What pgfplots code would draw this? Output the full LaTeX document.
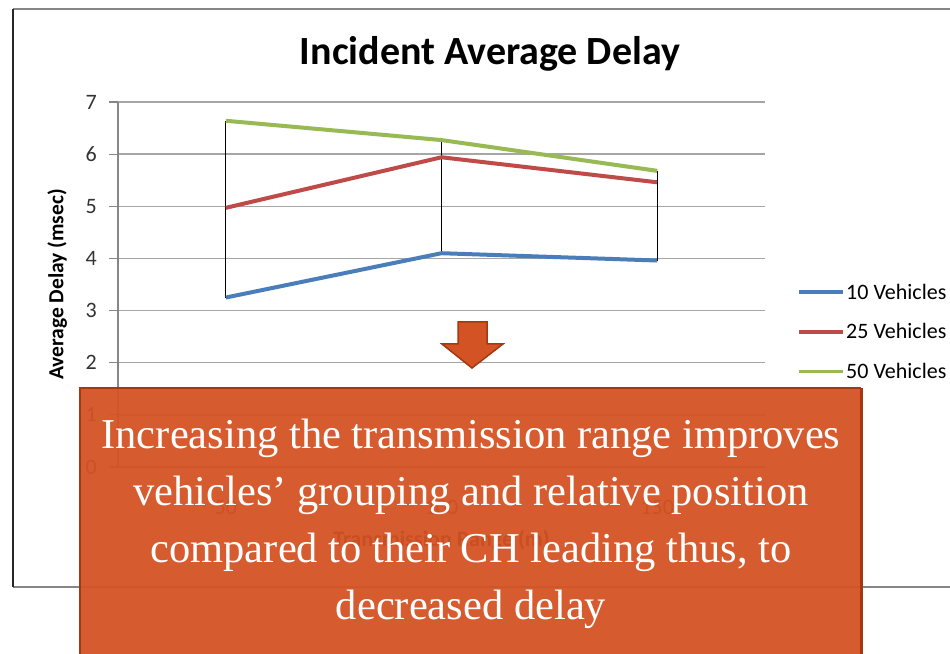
\documentclass[border=0pt]{standalone}
\usepackage{pgfplots}
\pgfplotsset{compat=1.18}
\usepackage{fontspec}
\setmainfont{Carlito}
\newfontfamily\boxfont{Liberation Serif}
\definecolor{s1}{HTML}{4A7EBB}
\definecolor{s2}{HTML}{BE4B48}
\definecolor{s3}{HTML}{98B954}
\definecolor{boxor}{HTML}{D45324}
\definecolor{boxbd}{HTML}{A3390F}
\definecolor{gridc}{HTML}{A6A6A6}
\definecolor{axc}{HTML}{868686}
\begin{document}
\begin{tikzpicture}[x=1pt,y=1pt]
\useasboundingbox (0,0) rectangle (950,653);
\clip (0,0) rectangle (950,653);
\fill[white] (0,0) rectangle (950,653);
\draw[line width=1.2pt, axc] (13,66) -- (960,66);
\draw[line width=1.2pt, axc] (13,644) -- (960,644);
\draw[line width=1.8pt, black!85] (13,66) -- (13,644);
\begin{axis}[
  at={(118pt,186pt)}, anchor=south west,
  scale only axis, width=647pt, height=365pt,
  xmin=-0.5, xmax=2.5, ymin=0, ymax=7,
  xtick={0,1,2}, xticklabels={50,100,150},
  ytick={0,1,...,7},
  axis lines*=left,
  axis line style={axc, line width=1.2pt},
  ymajorgrids, grid style={gridc, line width=1.3pt},
  tick align=outside, major tick length=9pt,
  ytick style={axc, line width=1.2pt},
  xtick style={draw=none},
  tick label style={font=\fontsize{22}{22}\selectfont, text=black!80},
  /pgf/number format/assume math mode=true,
  yticklabel style={inner sep=0pt, xshift=-12pt},
  xticklabel style={inner sep=0pt, yshift=-24pt},
  title={Incident Average Delay},
  title style={at={(0.575,1)}, anchor=base, yshift=31pt, font=\bfseries\fontsize{40}{42}\selectfont},
  ylabel={Average Delay (msec)},
  ylabel style={at={(axis description cs:-0.094,0.5)}, rotate=0, anchor=center, font=\bfseries\fontsize{21.5}{22}\selectfont},
  xlabel={Transmission Range (m)},
  xlabel style={at={(axis description cs:0.5,-0.2)}, anchor=center, font=\bfseries\fontsize{22}{22}\selectfont},
  legend style={at={(1.0495,0.37)}, anchor=west, draw=none, fill=none, inner sep=0pt,
    font=\fontsize{22}{22}\selectfont, row sep=23pt,
    nodes={inner sep=0pt},
    /tikz/every odd column/.append style={column sep=1.5pt}},
  legend cell align=left,
  legend image code/.code={\draw[#1, line width=3.5pt] (0pt,0pt) -- (44pt,0pt);},
]
\addplot[black, line width=1.1pt, forget plot] coordinates {(0,3.25) (0,6.64)};
\addplot[black, line width=1.1pt, forget plot] coordinates {(1,4.10) (1,6.27)};
\addplot[black, line width=1.1pt, forget plot] coordinates {(2,3.96) (2,5.68)};
\addplot[s1, line width=4pt, line join=round] coordinates {(0,3.25) (1,4.10) (2,3.96)};
\addlegendentry{10 Vehicles}
\addplot[s2, line width=4pt, line join=round] coordinates {(0,4.97) (1,5.94) (2,5.46)};
\addlegendentry{25 Vehicles}
\addplot[s3, line width=4pt, line join=round] coordinates {(0,6.64) (1,6.27) (2,5.68)};
\addlegendentry{50 Vehicles}
\end{axis}
% down arrow
\filldraw[fill=boxor, draw=boxbd, line width=1.5pt, line join=miter]
  (458,331) -- (487,331) -- (487,309) -- (503,309) -- (472,285) -- (442,309) -- (458,309) -- cycle;
% callout box
\fill[boxor, fill opacity=0.95] (80,-10) rectangle (861,265);
\draw[boxbd, line width=2pt] (80,-10) -- (80,265) -- (861,265);
\draw[boxbd, line width=3pt] (861,265) -- (861,-10);
\begin{scope}[every node/.style={text=white, anchor=base, inner sep=0pt, font=\boxfont\fontsize{42.5}{42.5}\selectfont}]
\node at (471,204) {Increasing the transmission range improves};
\node at (471,147) {vehicles’ grouping and relative position};
\node at (471,90) {compared to their CH leading thus, to};
\node at (471,34) {decreased delay};
\end{scope}
\end{tikzpicture}
\end{document}
